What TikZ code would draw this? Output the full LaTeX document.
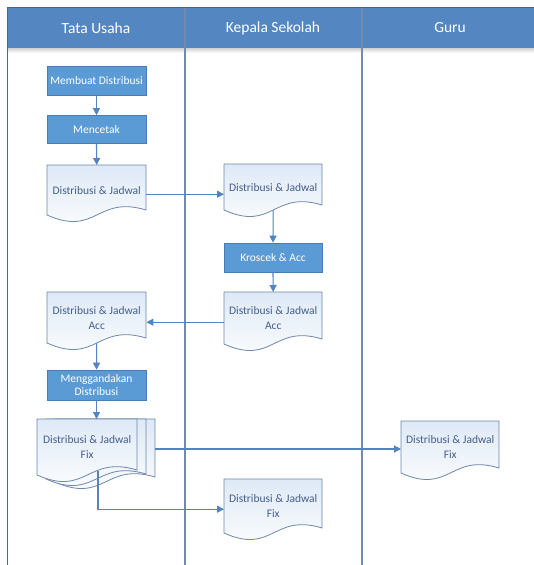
\documentclass[tikz,border=0pt]{standalone}
\usepackage{fontspec}
\setmainfont{Carlito}
\usetikzlibrary{arrows.meta,calc}
\definecolor{hdr}{RGB}{84,134,193}
\definecolor{hdrline}{RGB}{60,100,155}
\definecolor{laneline}{RGB}{115,138,170}
\definecolor{borderline}{RGB}{75,105,150}
\definecolor{procfill}{RGB}{91,155,213}
\definecolor{procline}{RGB}{70,125,180}
\definecolor{doclinecol}{RGB}{110,135,170}
\definecolor{docfill}{RGB}{222,233,246}
\definecolor{doctext}{RGB}{70,95,140}
\definecolor{arrowcol}{RGB}{84,132,192}
\newcommand\docshape[5]{%
  \path[docline,#5] (#1,#2) -- (#1+#3,#2) -- (#1+#3,#2+#4-5)
    .. controls (#1+0.5*#3,#2+#4-20) and (#1+0.5*#3,#2+#4+22) .. (#1,#2+#4) -- cycle;}
\tikzset{
  procbox/.style={draw=procline, line width=0.6pt, fill=procfill, minimum width=99pt,
    minimum height=29pt, text=white, font=\fontsize{11.5}{13.5}\selectfont,
    inner sep=1pt, align=center},
  docnode/.style={inner sep=0pt, align=center, text=doctext,
    font=\fontsize{11.5}{15}\selectfont, anchor=north west},
  docline/.style={draw=doclinecol, line width=0.8pt, top color=docfill, bottom color=white},
  flow/.style={draw=arrowcol, line width=1.1pt, -{Triangle[length=7pt,width=7pt]}},
  hdrtext/.style={text=white, font=\fontsize{15.5}{17}\selectfont},
  lane/.style={draw=laneline, line width=1.2pt},
}
\begin{document}
\begin{tikzpicture}[x=1pt,y=-1pt]
\useasboundingbox (0,0) rectangle (534,565);
\fill[white] (0,0) rectangle (534,565);
% header
\fill[hdr] (7,7) rectangle (534,48);
\shade[top color=black!18, bottom color=white] (8,48) rectangle (534,53);
\draw[hdrline, line width=1pt] (7,7.5) -- (534,7.5);
\node[hdrtext] (h1) at (96,28) {Tata Usaha};
\node[hdrtext] (h2) at (273,28) {Kepala Sekolah};
\node[hdrtext] (h3) at (450,28) {Guru};
% lanes
\draw[lane] (185,8) -- (185,565);
\draw[lane] (362,8) -- (362,565);
\draw[borderline, line width=1.8pt] (7.5,8) -- (7.5,565);
% process boxes
\node[procbox] (m1) at (96.5,81) {Membuat Distribusi};
\node[procbox, minimum height=28pt] (m2) at (96.5,129.5) {Mencetak};
\node[procbox, minimum width=98pt] (k) at (273,257.5) {Kroscek \& Acc};
\node[procbox, minimum height=30pt, font=\fontsize{11.5}{12.5}\selectfont] (g) at (96.5,385) {Menggandakan\\Distribusi};
% documents
\docshape{47}{165}{99}{50}{}
\node[docnode, minimum width=99pt, minimum height=50pt] (d1) at (47,165) {Distribusi \& Jadwal};
\docshape{224}{164}{98}{46}{}
\node[docnode, minimum width=98pt, minimum height=46pt] (d2) at (224,164) {Distribusi \& Jadwal};
\docshape{224}{292}{98}{52}{}
\node[docnode, minimum width=98pt, minimum height=52pt] (d3) at (224,292) {Distribusi \& Jadwal\\Acc};
\docshape{47}{292}{99}{51}{}
\node[docnode, minimum width=99pt, minimum height=51pt] (d4) at (47,292) {Distribusi \& Jadwal\\Acc};
% multi document
\docshape{55}{419}{100}{63}{}
\docshape{46}{419}{100}{60}{}
\docshape{37}{419}{100}{56}{}
\node[docnode, minimum width=100pt, minimum height=56pt] (fx) at (37,419) {Distribusi \& Jadwal\\Fix};
\coordinate (fxr) at (155,449);
\coordinate (fxb) at (98,471);
\docshape{401}{421}{98}{52}{}
\node[docnode, minimum width=98pt, minimum height=52pt] (d5) at (401,421) {Distribusi \& Jadwal\\Fix};
\docshape{224}{479}{98}{54}{}
\node[docnode, minimum width=98pt, minimum height=54pt] (d6) at (224,479) {Distribusi \& Jadwal\\Fix};
% connectors
\draw[flow] (m1.south) -- (m2.north);
\draw[flow] (m2.south) -- (d1.north);
\draw[flow] ([yshift=-4pt]d1.east) -- ([yshift=-4pt]d1.east -| d2.west);
\draw[flow] (d2.south) -- (k.north);
\draw[flow] (k.south) -- (d3.north);
\draw[flow] ([yshift=-4pt]d3.west) -- ([yshift=-4pt]d3.west -| d4.east);
\draw[flow] (d4.south) -- (g.north);
\draw[flow] (g.south) -- (g.south |- fx.north);
\draw[flow] (fxr) -- (fxr -| d5.west);
\draw[flow] (fxb) |- ([yshift=-3pt]d6.west);
\end{tikzpicture}
\end{document}
